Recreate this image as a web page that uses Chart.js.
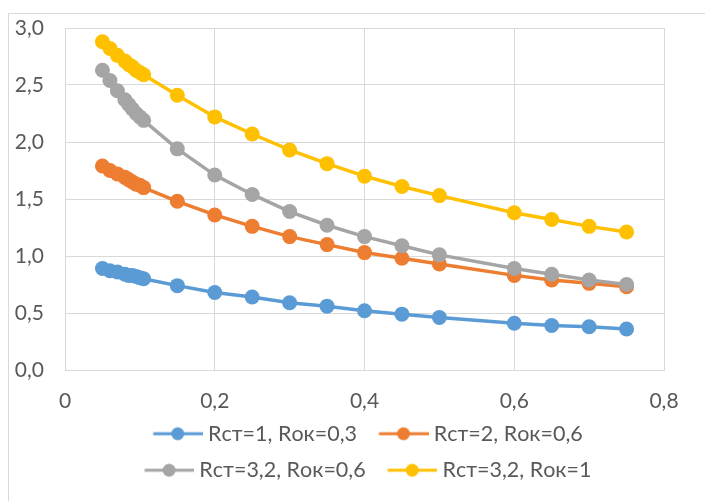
<!DOCTYPE html>
<html>
<head>
<meta charset="utf-8">
<script src="https://cdn.jsdelivr.net/npm/chart.js@4/dist/chart.umd.min.js"></script>
<style>
  html, body { margin: 0; padding: 0; background: #fff; }
  .wrap { position: relative; width: 705px; height: 501px; overflow: hidden; }
  .frame { position: absolute; left: 8px; top: 13px; width: 720px; height: 520px; border: 1px solid #d9d9d9; }
  canvas { position: absolute; left: 0; top: 0; }
</style>
</head>
<body>
<div class="wrap">
  <div class="frame"></div>
  <canvas id="chart" width="705" height="501"></canvas>
</div>
<script>
/* ── Data ───────────────────────────────────────────── */
const xVals  = [0.05, 0.06, 0.07, 0.08, 0.085, 0.09, 0.095, 0.1, 0.105, 0.15, 0.2, 0.25, 0.3, 0.35, 0.4, 0.45, 0.5, 0.6, 0.65, 0.7, 0.75];
const blue   = [0.89, 0.87, 0.86, 0.84, 0.83, 0.83, 0.82, 0.81, 0.80, 0.74, 0.68, 0.64, 0.59, 0.56, 0.52, 0.49, 0.46, 0.41, 0.39, 0.38, 0.36];
const orange = [1.79, 1.75, 1.72, 1.69, 1.67, 1.65, 1.63, 1.62, 1.60, 1.48, 1.36, 1.26, 1.17, 1.10, 1.03, 0.98, 0.93, 0.83, 0.79, 0.76, 0.73];
const gray   = [2.63, 2.54, 2.45, 2.37, 2.33, 2.29, 2.25, 2.22, 2.19, 1.94, 1.71, 1.54, 1.39, 1.27, 1.17, 1.09, 1.01, 0.89, 0.84, 0.79, 0.75];
const yellow = [2.88, 2.82, 2.76, 2.71, 2.68, 2.66, 2.63, 2.61, 2.59, 2.41, 2.22, 2.07, 1.93, 1.81, 1.70, 1.61, 1.53, 1.38, 1.32, 1.26, 1.21];
const xTicks = [0, 0.2, 0.4, 0.6, 0.8];
const seriesNames = ['Rст=1, Rок=0,3', 'Rст=2, Rок=0,6', 'Rст=3,2, Rок=0,6', 'Rст=3,2, Rок=1'];
const seriesVals  = [blue, orange, gray, yellow];
const colors      = ['#5b9bd5', '#ed7d31', '#a5a5a5', '#ffc000'];

const FONT = 'Lato';
const TXT = '#595959';
const GRID = '#d9d9d9';

const comma = s => String(s).replace('.', ',');

/* ── Legend symbol (line + dot) ─────────────────────── */
function legendSymbol(color) {
  const c = document.createElement('canvas');
  c.width = 62; c.height = 16;
  const g = c.getContext('2d');
  g.strokeStyle = color; g.lineWidth = 3;
  g.beginPath(); g.moveTo(12.5, 8); g.lineTo(62, 8); g.stroke();
  g.fillStyle = color;
  g.beginPath(); g.arc(37, 8, 6.5, 0, Math.PI * 2); g.fill();
  return c;
}
const symbols = colors.map(legendSymbol);

/* ── Datasets ───────────────────────────────────────── */
const datasets = seriesVals.map((vals, i) => ({
  label: seriesNames[i],
  data: vals.map((v, k) => ({ x: xVals[k], y: v })),
  showLine: true,
  borderColor: colors[i],
  backgroundColor: colors[i],
  borderWidth: 3.5,
  pointRadius: 7.5,
  pointBorderWidth: 0,
  pointHoverRadius: 7.5,
  order: seriesVals.length - i,
}));

/* ── Chart ──────────────────────────────────────────── */
new Chart(document.getElementById('chart'), {
  type: 'scatter',
  data: { datasets },
  options: {
    responsive: false,
    animation: false,
    layout: { padding: { left: 0, right: 41, top: 28, bottom: 10 } },
    plugins: {
      tooltip: { enabled: false },
      legend: {
        position: 'bottom',
        fullSize: false,
        labels: {
          usePointStyle: true,
          pointStyleWidth: 51,
          padding: 15,
          color: TXT,
          font: { family: FONT, size: 21.5 },
          generateLabels: chart => chart.data.datasets.map((ds, i) => ({
            text: ds.label,
            fillStyle: colors[i],
            strokeStyle: colors[i],
            lineWidth: 0,
            pointStyle: symbols[i],
            fontColor: TXT,
            hidden: false,
            datasetIndex: i,
          })),
        },
      },
    },
    scales: {
      x: {
        type: 'linear',
        min: 0, max: 0.8,
        // fixed band under the plot; let tick labels spill past it unclipped
        afterFit: s => { s.height = 38; s._computeLabelArea = () => null; },
        afterBuildTicks: s => { s.ticks = xTicks.map(v => ({ value: v })); },
        grid: { color: GRID, lineWidth: 1, drawTicks: false },
        border: { color: GRID },
        ticks: {
          padding: 19, color: TXT,
          font: { family: FONT, size: 21 },
          callback: v => v === 0 ? '0' : comma(v.toFixed(1)),
        },
      },
      y: {
        min: 0, max: 3,
        afterFit: s => { s.width = 65; s.paddingTop = 0; s.paddingBottom = 0; },
        grid: { color: GRID, lineWidth: 1, drawTicks: false },
        border: { color: GRID },
        ticks: {
          stepSize: 0.5, padding: 21, color: TXT,
          font: { family: FONT, size: 21 },
          callback: v => comma(v.toFixed(1)),
        },
      },
    },
  },
});
</script>
</body>
</html>
